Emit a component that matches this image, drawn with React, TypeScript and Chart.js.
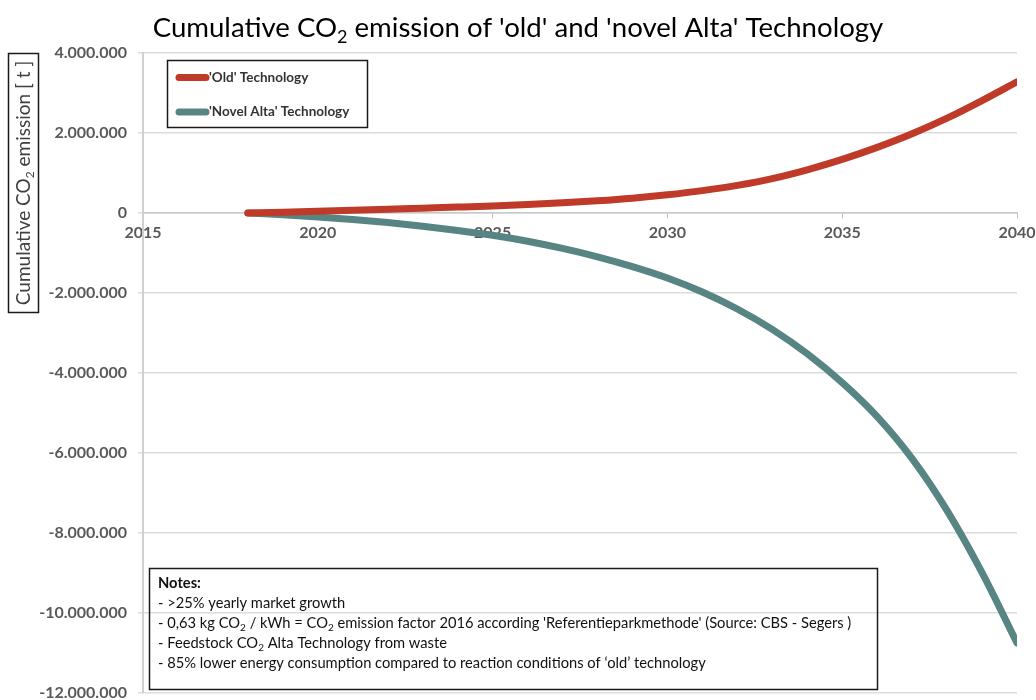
import React, { useEffect, useRef } from 'react';
import { Chart, registerables } from 'chart.js';

Chart.register(...registerables);

// ---------- data ----------
const years = [2018, 2019, 2020, 2021, 2022, 2023, 2024, 2025, 2026, 2027, 2028, 2029, 2030, 2031, 2032, 2033, 2034, 2035, 2036, 2037, 2038, 2039, 2040];
const oldTechnology = [0, 20000, 42000, 66000, 92000, 120000, 148000, 178000, 214000, 256000, 306000, 370000, 455000, 560000, 690000, 860000, 1080000, 1340000, 1640000, 1980000, 2370000, 2810000, 3280000];
const novelAltaTechnology = [0, -45000, -100000, -165000, -240000, -330000, -435000, -555000, -705000, -885000, -1095000, -1340000, -1625000, -1975000, -2400000, -2910000, -3520000, -4240000, -5090000, -6140000, -7440000, -8990000, -10750000];
const seriesLabels = ["'Old' Technology", "'Novel Alta' Technology"];
const seriesColors = ['#BF3A28', '#578583'];
const xMin = 2015, xMax = 2040, xStep = 5;
const yMin = -12000000, yMax = 4000000, yStep = 2000000;

type Seg = { t: string; sub?: boolean };
const titleSegs: Seg[] = [{ t: 'Cumulative CO' }, { t: '2', sub: true }, { t: " emission of 'old' and 'novel Alta' Technology" }];
const yTitleSegs: Seg[] = [{ t: 'Cumulative CO' }, { t: '2', sub: true }, { t: ' emission [ t ]' }];
const notesHeading = 'Notes:';
const notesLines: Seg[][] = [
  [{ t: '- >25% yearly market growth' }],
  [{ t: '- 0,63 kg CO' }, { t: '2', sub: true }, { t: ' / kWh = CO' }, { t: '2', sub: true }, { t: " emission factor 2016 according 'Referentieparkmethode' (Source: CBS - Segers )" }],
  [{ t: '- Feedstock CO' }, { t: '2', sub: true }, { t: ' Alta Technology from waste' }],
  [{ t: '- 85% lower energy consumption compared to reaction conditions of \u2018old\u2019 technology' }],
];

const FONT = 'Lato, "Open Sans", sans-serif';

function fmtNum(v: number): string {
  const s = Math.abs(Math.round(v)).toString().replace(/\B(?=(\d{3})+(?!\d))/g, '.');
  return (v < 0 ? '-' : '') + s;
}

function drawRich(ctx: CanvasRenderingContext2D, segs: Seg[], x: number, y: number, size: number, weight: string, align: 'left' | 'center') {
  const main = `${weight} ${size}px ${FONT}`;
  const sub = `${weight} ${Math.round(size * 0.65)}px ${FONT}`;
  let total = 0;
  for (const s of segs) {
    ctx.font = s.sub ? sub : main;
    total += ctx.measureText(s.t).width;
  }
  let cx = align === 'center' ? x - total / 2 : x;
  ctx.textAlign = 'left';
  ctx.textBaseline = 'alphabetic';
  for (const s of segs) {
    ctx.font = s.sub ? sub : main;
    ctx.fillText(s.t, cx, s.sub ? y + size * 0.2 : y);
    cx += ctx.measureText(s.t).width;
  }
}

const overlayPlugin = {
  id: 'overlay',
  afterDraw(chart: any) {
    const ctx: CanvasRenderingContext2D = chart.ctx;
    ctx.save();
    // title
    ctx.fillStyle = '#000';
    drawRich(ctx, titleSegs, 518, 37, 27.6, 'normal', 'center');

    // y-axis title in box
    ctx.save();
    ctx.translate(23.5, 183);
    ctx.rotate(-Math.PI / 2);
    ctx.fillStyle = '#404040';
    drawRich(ctx, yTitleSegs, 0, 6.5, 19, 'normal', 'center');
    ctx.restore();
    ctx.strokeStyle = '#1a1a1a';
    ctx.lineWidth = 1.5;
    ctx.strokeRect(8.5, 53.5, 30, 259);

    // legend
    ctx.fillStyle = '#fff';
    ctx.fillRect(167, 60, 201, 68);
    ctx.strokeStyle = '#1a1a1a';
    ctx.lineWidth = 1.5;
    ctx.strokeRect(167.5, 60.5, 200, 67);
    const ds = chart.data.datasets;
    const rowsY = [77.5, 112];
    ds.forEach((d: any, i: number) => {
      ctx.strokeStyle = d.borderColor;
      ctx.lineWidth = 7;
      ctx.lineCap = 'round';
      ctx.beginPath();
      ctx.moveTo(179, rowsY[i]);
      ctx.lineTo(206, rowsY[i]);
      ctx.stroke();
      ctx.fillStyle = '#333';
      ctx.font = `bold 13.5px ${FONT}`;
      ctx.textAlign = 'left';
      ctx.textBaseline = 'middle';
      ctx.fillText(d.label, 209, rowsY[i]);
    });

    // notes box
    ctx.strokeStyle = '#1a1a1a';
    ctx.lineWidth = 1.5;
    ctx.strokeRect(149.5, 568.5, 728, 121);
    ctx.fillStyle = '#111';
    ctx.font = `bold 14.7px ${FONT}`;
    ctx.textAlign = 'left';
    ctx.textBaseline = 'alphabetic';
    ctx.fillText(notesHeading, 158, 588);
    notesLines.forEach((segs, i) => {
      drawRich(ctx, segs, 158, 608 + i * 20, 14.7, 'normal', 'left');
    });
    ctx.restore();
  },
};

export default function App() {
  const ref = useRef<HTMLCanvasElement | null>(null);
  useEffect(() => {
    if (!ref.current) return;
    const chart = new Chart(ref.current, {
      type: 'line',
      data: {
        datasets: [
          {
            label: seriesLabels[0],
            data: years.map((x, i) => ({ x, y: oldTechnology[i] })),
            borderColor: seriesColors[0],
            backgroundColor: seriesColors[0],
            borderWidth: 7,
            pointRadius: 0,
            cubicInterpolationMode: 'monotone',
            borderCapStyle: 'round',
            clip: 0,
          },
          {
            label: seriesLabels[1],
            data: years.map((x, i) => ({ x, y: novelAltaTechnology[i] })),
            borderColor: seriesColors[1],
            backgroundColor: seriesColors[1],
            borderWidth: 7,
            pointRadius: 0,
            cubicInterpolationMode: 'monotone',
            borderCapStyle: 'round',
            clip: 0,
          },
        ],
      },
      options: {
        responsive: false,
        animation: false,
        layout: { padding: { top: 53, right: 19, bottom: 7, left: 0 } },
        plugins: { legend: { display: false }, title: { display: false }, tooltip: { enabled: false } },
        scales: {
          x: {
            type: 'linear',
            position: { y: 0 } as any,
            min: xMin,
            max: xMax,
            afterFit: (scale: any) => { scale.height = 0; scale.paddingLeft = 0; scale.paddingRight = 0; },
            ticks: {
              stepSize: xStep,
              color: '#595959',
              font: { family: FONT, size: 16, weight: 'bold' },
              padding: 5,
              maxRotation: 0,
              callback: (v: any) => String(v),
            },
            grid: { drawOnChartArea: false, drawTicks: true, tickLength: 5, color: '#bfbfbf', lineWidth: 1 },
            border: { display: true, color: '#c8c8c8', width: 1.5 },
          },
          y: {
            type: 'linear',
            min: yMin,
            max: yMax,
            afterFit: (scale: any) => { scale.width = 143; scale.paddingBottom = 0; scale.paddingTop = 0; },
            ticks: {
              stepSize: yStep,
              color: '#595959',
              font: { family: FONT, size: 16, weight: 'bold' },
              padding: 11,
              callback: (v: any) => fmtNum(Number(v)),
            },
            grid: { color: '#dcdcdc', lineWidth: 1.5, tickLength: 5 },
            border: { display: true, color: '#d0d0d0', width: 2 },
          },
        },
      },
      plugins: [overlayPlugin],
    } as any);
    return () => chart.destroy();
  }, []);
  return (
    <div style={{ position: 'absolute', left: 0, top: 0, width: 1036, height: 700, background: '#fff' }}>
      <canvas ref={ref} width={1036} height={700} style={{ display: 'block' }} />
    </div>
  );
}
